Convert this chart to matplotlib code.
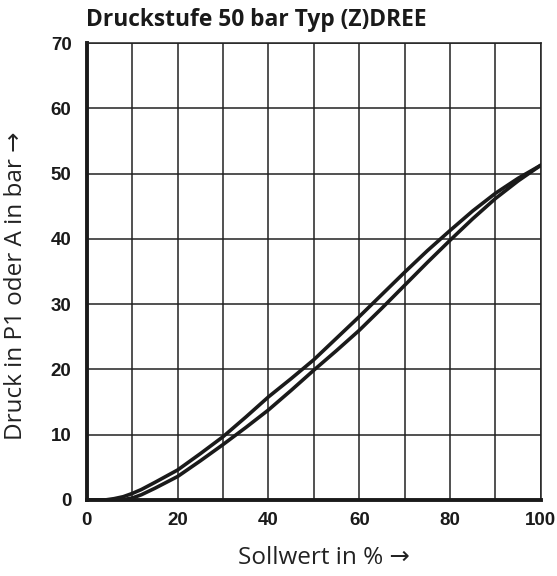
import matplotlib
matplotlib.use("Agg")
import matplotlib.pyplot as plt

# Sollwert in %
sollwert = [0, 4, 6, 8, 10, 12, 15, 20, 25, 30, 35, 40, 45, 50, 55, 60, 65, 70, 75, 80, 85, 90, 95, 100]
# upper branch
druck_oben = [0, 0, 0.2, 0.5, 1.0, 1.6, 2.7, 4.6, 7.1, 9.7, 12.7, 15.8, 18.6, 21.5, 24.8, 28.1, 31.5, 34.9, 38.2, 41.3, 44.3, 47.0, 49.3, 51.3]
# lower branch
druck_unten = [0, 0, 0, 0.05, 0.3, 0.8, 1.8, 3.6, 6.0, 8.5, 11.1, 13.8, 16.8, 19.9, 22.9, 26.0, 29.4, 32.9, 36.4, 39.8, 43.1, 46.2, 48.9, 51.3]

x_ticks = [0, 20, 40, 60, 80, 100]
y_ticks = [0, 10, 20, 30, 40, 50, 60, 70]

tick_font = ["Liberation Sans", "DejaVu Sans"]
label_font = ["Open Sans", "DejaVu Sans"]

fig = plt.figure(figsize=(5.57, 5.76), dpi=100)
ax = fig.add_axes([0.156, 0.132, 0.815, 0.793])

for y in (druck_oben, druck_unten):
    ax.plot(sollwert, y, color="#1a1a1a", lw=2.6, solid_joinstyle="round",
            solid_capstyle="round", zorder=3)

ax.set_xlim(0, 100)
ax.set_ylim(0, 70)
ax.set_xticks(x_ticks)
ax.set_yticks(y_ticks)
ax.set_xticks(range(0, 101, 10), minor=True)
ax.grid(True, which="both", color="#222222", lw=1.1)
ax.tick_params(which="both", length=0)
ax.tick_params(axis="x", pad=9)
ax.tick_params(axis="y", pad=11)

for lbl in ax.get_xticklabels() + ax.get_yticklabels():
    lbl.set_family(tick_font)
    lbl.set_fontweight("bold")
    lbl.set_fontsize(13.5)
    lbl.set_color("#1a1a1a")

for side in ["top", "right"]:
    ax.spines[side].set_linewidth(1.1)
    ax.spines[side].set_color("#222222")
for side in ["left", "bottom"]:
    ax.spines[side].set_linewidth(2.8)
    ax.spines[side].set_color("#1a1a1a")

ax.set_xlabel("Sollwert in % →", family=label_font, fontsize=17.5, color="#222222", va="center")
ax.xaxis.set_label_coords(0.522, -0.127)
ax.set_ylabel("Druck in P1 oder A in bar →", family=label_font, fontsize=17.5, color="#222222", va="center")
ax.yaxis.set_label_coords(-0.156, 0.47)

fig.text(0.46, 0.965, "Druckstufe 50 bar Typ (Z)DREE", family=label_font, fontweight="bold",
         fontsize=16.4, color="#1a1a1a", ha="center", va="center")

fig.savefig("out.png", dpi=100)
